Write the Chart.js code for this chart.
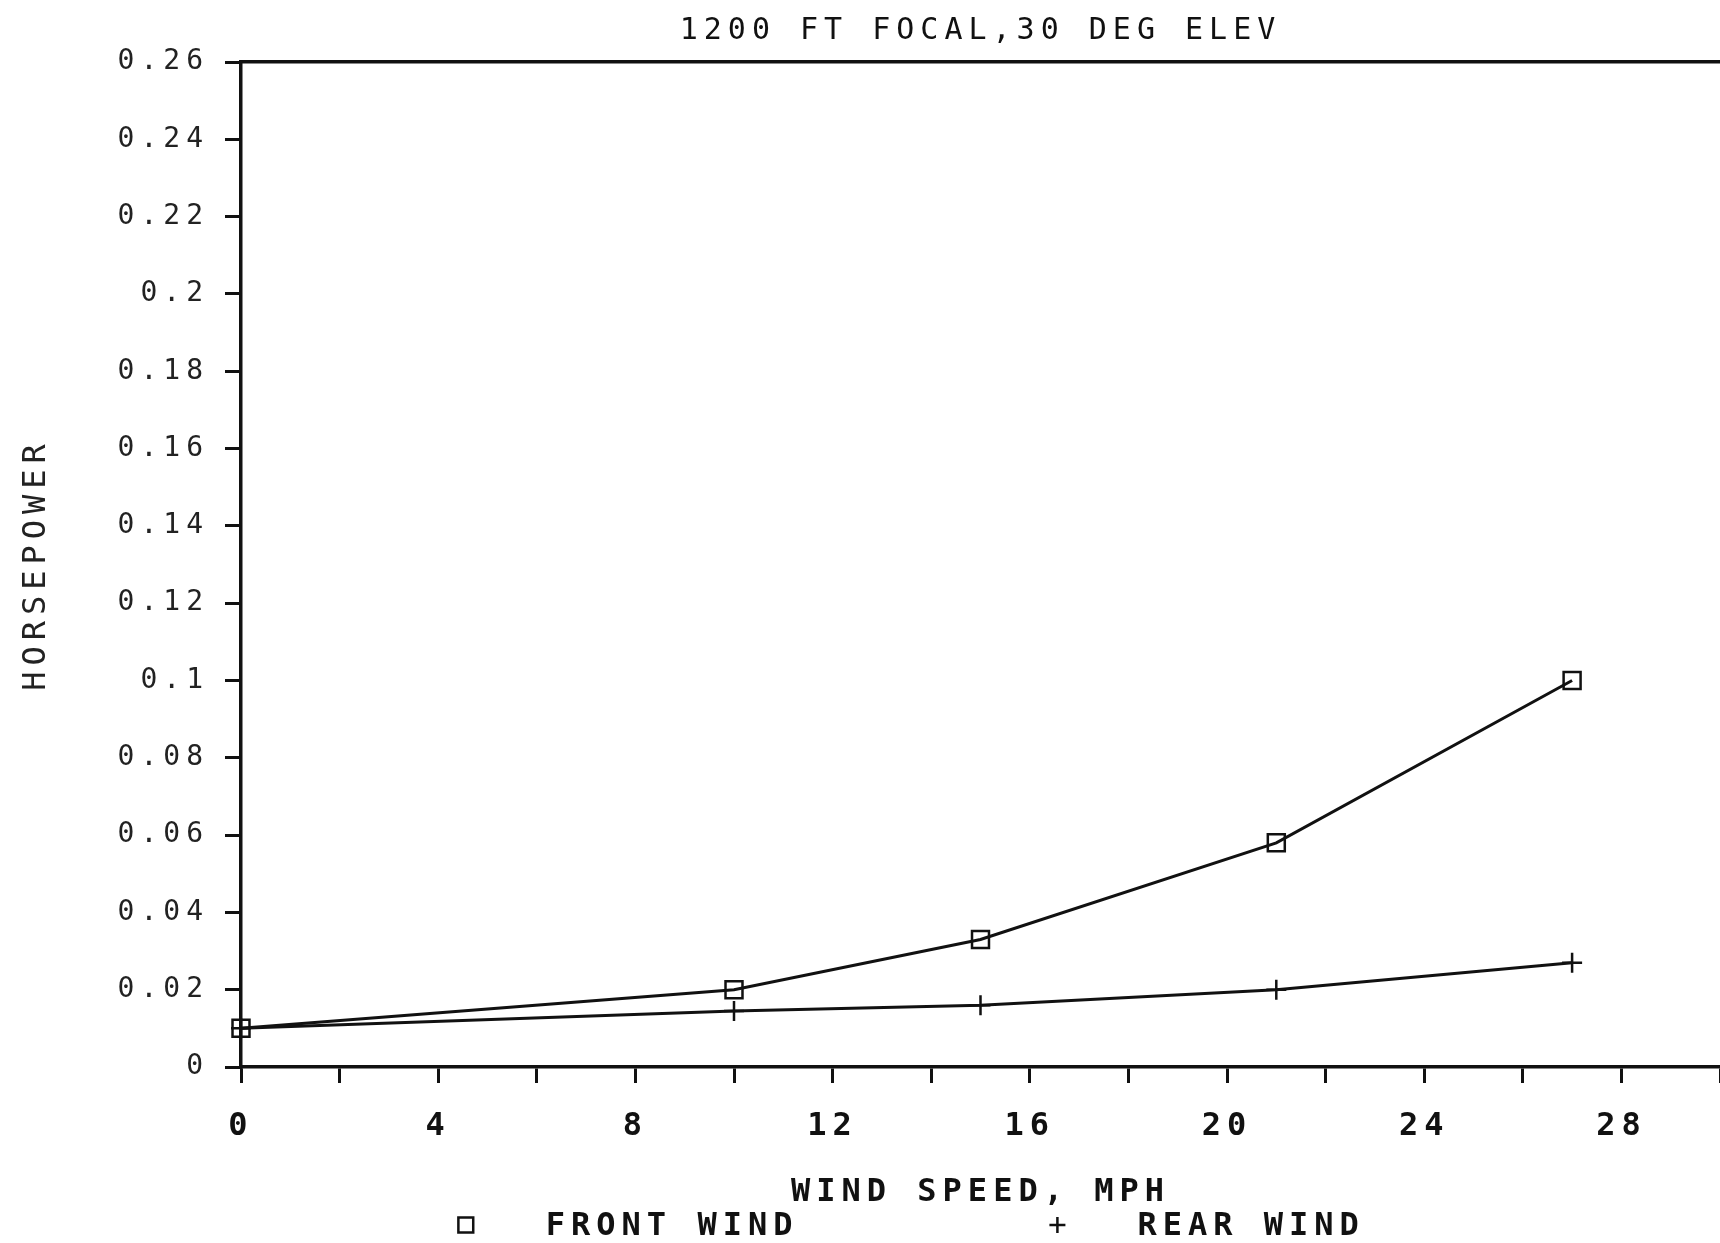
<!DOCTYPE html>
<html>
<head>
<meta charset="utf-8">
<title>1200 FT FOCAL, 30 DEG ELEV</title>
<script src="https://cdn.jsdelivr.net/npm/chart.js@4.4.0/dist/chart.umd.min.js"></script>
<style>
  html, body { margin: 0; padding: 0; background: #fff; overflow: hidden; }
  #wrap { width: 1720px; height: 1243px; }
  #hpChart { display: block; }
</style>
</head>
<body>
<div id="wrap"><canvas id="hpChart" width="1720" height="1243"></canvas></div>
<script>
// values
const windSpeed = [0, 10, 15, 21, 27];
const frontWindHp = [0.010, 0.020, 0.033, 0.058, 0.100];
const rearWindHp = [0.010, 0.0145, 0.016, 0.020, 0.027];

const xTickLabels = [0, 4, 8, 12, 16, 20, 24, 28];
const yTickLabels = ['0', '0.02', '0.04', '0.06', '0.08', '0.1', '0.12', '0.14',
    '0.16', '0.18', '0.2', '0.22', '0.24', '0.26'];

const FONT = "'DejaVu Sans Mono', monospace";
const INK = '#111';

// old plotter lettering is widely spaced
const plotterSpacing = {
    id: 'plotterSpacing',
    beforeUpdate(chart) { chart.ctx.letterSpacing = '6px'; },
    beforeDraw(chart) { chart.ctx.letterSpacing = '6px'; }
};

// legend line under the axis title
const bottomLegend = {
    id: 'bottomLegend',
    afterDraw(chart, args, opts) {
        const ctx = chart.ctx;
        const area = chart.chartArea;
        const y = chart.scales.x.bottom - opts.lift;
        ctx.save();
        ctx.font = 'bold 32px ' + FONT;
        ctx.textBaseline = 'middle';
        ctx.lineWidth = 2.5;
        chart.data.datasets.forEach((ds, i) => {
            const mx = area.left + opts.anchors[i] * (area.right - area.left);
            ctx.strokeStyle = INK;
            ctx.fillStyle = 'rgba(0,0,0,0)';
            Chart.helpers.drawPoint(ctx, {
                pointStyle: ds.pointStyle,
                radius: opts.markerRadius[i],
                borderWidth: 2.5
            }, mx, y);
            ctx.fillStyle = INK;
            ctx.fillText(ds.label, mx + opts.gap, y + 2);
        });
        ctx.restore();
    }
};

const pts = (ys) => windSpeed.map((x, i) => ({ x: x, y: ys[i] }));

const ctx = document.getElementById('hpChart').getContext('2d');

new Chart(ctx, {
    type: 'line',
    data: {
        datasets: [
            {
                label: 'FRONT WIND',
                data: pts(frontWindHp),
                borderColor: INK,
                borderWidth: 3,
                backgroundColor: 'rgba(0,0,0,0)',
                pointStyle: 'rect',
                pointRadius: 12,
                pointBorderWidth: 2.5,
                pointBorderColor: INK,
                pointBackgroundColor: 'rgba(0,0,0,0)',
                tension: 0,
                clip: false
            },
            {
                label: 'REAR WIND',
                data: pts(rearWindHp),
                borderColor: INK,
                borderWidth: 3,
                backgroundColor: 'rgba(0,0,0,0)',
                pointStyle: 'cross',
                pointRadius: 10,
                pointBorderWidth: 2.5,
                pointBorderColor: INK,
                tension: 0,
                clip: false
            }
        ]
    },
    options: {
        responsive: false,
        animation: false,
        devicePixelRatio: 1,
        // no extra room for markers, the plot runs to the page edge
        layout: { padding: 0, autoPadding: false },
        scales: {
            x: {
                type: 'linear',
                position: 'bottom',
                min: 0,
                max: 30,
                afterFit: (s) => { s.height = 176; s.paddingRight = 0; },
                ticks: {
                    stepSize: 2,
                    autoSkip: false,
                    maxRotation: 0,
                    padding: 24,
                    color: INK,
                    font: { family: FONT, size: 32, weight: 'bold' },
                    callback: (v) => xTickLabels.includes(v) ? String(v) : ''
                },
                grid: {
                    drawOnChartArea: false,
                    drawTicks: true,
                    tickLength: 16,
                    color: INK,
                    lineWidth: 3
                },
                border: { display: true, color: INK, width: 3.5 },
                title: {
                    display: true,
                    text: 'WIND SPEED, MPH',
                    color: INK,
                    font: { family: FONT, size: 32, weight: 'bold' },
                    padding: { top: 0, bottom: 31 }
                }
            },
            xTop: {
                type: 'linear',
                axis: 'x',
                position: 'top',
                min: 0,
                max: 30,
                afterFit: (s) => { s.height = 0; s.paddingRight = 0; },
                ticks: { display: false },
                grid: { drawOnChartArea: false, drawTicks: false },
                border: { display: true, color: INK, width: 3.5 }
            },
            y: {
                type: 'linear',
                min: 0,
                max: 0.26,
                afterFit: (s) => { s.width = 241; },
                ticks: {
                    stepSize: 0.02,
                    autoSkip: false,
                    padding: 16,
                    color: '#222',
                    font: { family: FONT, size: 28 },
                    callback: (v, i) => yTickLabels[i] !== undefined ? yTickLabels[i] : ''
                },
                grid: {
                    drawOnChartArea: false,
                    drawTicks: true,
                    tickLength: 16,
                    color: INK,
                    lineWidth: 3
                },
                border: { display: true, color: INK, width: 3.5 },
                title: {
                    display: true,
                    text: 'HORSEPOWER',
                    color: '#222',
                    font: { family: FONT, size: 32 },
                    padding: { top: 17, bottom: 0 }
                }
            }
        },
        plugins: {
            legend: { display: false },
            tooltip: { enabled: false },
            title: {
                display: true,
                fullSize: false,
                text: '1200 FT FOCAL,30 DEG ELEV',
                color: INK,
                font: { family: FONT, size: 30, weight: 'normal' },
                padding: { top: 13, bottom: 13 }
            },
            bottomLegend: {
                anchors: [0.152, 0.552],
                markerRadius: [10.5, 8],
                gap: 80,
                lift: 18
            }
        }
    },
    plugins: [plotterSpacing, bottomLegend]
});
</script>
</body>
</html>
